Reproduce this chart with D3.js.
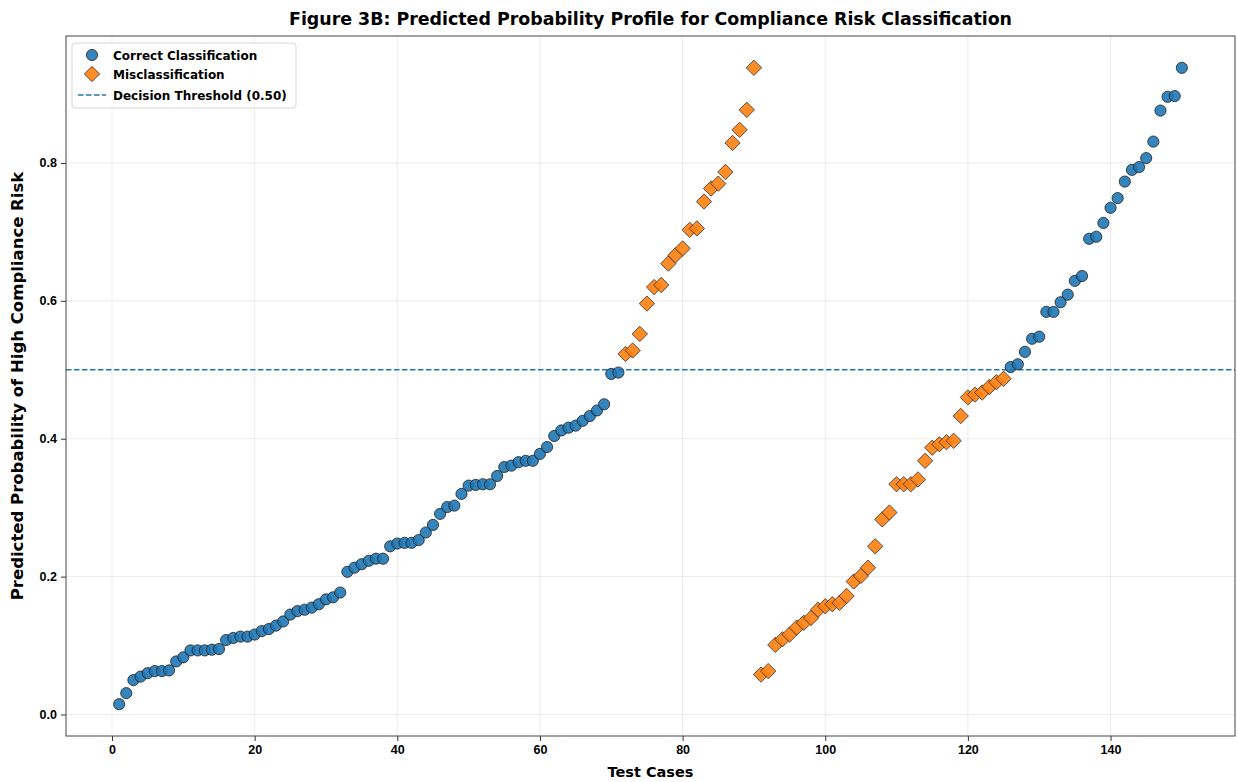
<!DOCTYPE html>
<html>
<head>
<meta charset="utf-8">
<script src="https://cdn.jsdelivr.net/npm/d3@7"></script>
<style>
  html, body { margin: 0; padding: 0; background: #fff; }
  svg { display: block; font-family: "DejaVu Sans", sans-serif; }
  .tick text { font-weight: bold; font-size: 12.5px; fill: #000; }
</style>
</head>
<body>
<svg id="chart" width="1238" height="782"></svg>
<script>
// Test cases split by outcome; probabilities of the high-risk class
const correctCasesA = d3.range(1, 72);
const correctProbA = [
  0.015, 0.031, 0.050, 0.055, 0.060, 0.063, 0.063, 0.064, 0.077, 0.083,
  0.093, 0.093, 0.093, 0.094, 0.095, 0.108, 0.111, 0.113, 0.113, 0.116,
  0.121, 0.124, 0.129, 0.135, 0.145, 0.150, 0.152, 0.155, 0.160, 0.167,
  0.170, 0.177, 0.207, 0.213, 0.218, 0.223, 0.226, 0.226, 0.244, 0.248,
  0.249, 0.249, 0.253, 0.264, 0.275, 0.291, 0.301, 0.303, 0.320, 0.332,
  0.333, 0.334, 0.334, 0.346, 0.359, 0.361, 0.366, 0.368, 0.368, 0.378,
  0.388, 0.404, 0.412, 0.416, 0.419, 0.426, 0.433, 0.441, 0.450, 0.494,
  0.496
];
const misCasesA = d3.range(72, 91);
const misProbA = [
  0.523, 0.528, 0.552, 0.596, 0.620, 0.623, 0.654, 0.666, 0.676, 0.703,
  0.705, 0.744, 0.763, 0.770, 0.787, 0.829, 0.848, 0.877, 0.938
];
const misCasesB = d3.range(91, 126);
const misProbB = [
  0.058, 0.063, 0.101, 0.109, 0.116, 0.126, 0.133, 0.140, 0.152, 0.157,
  0.160, 0.162, 0.172, 0.193, 0.201, 0.213, 0.244, 0.283, 0.293, 0.334,
  0.334, 0.334, 0.341, 0.368, 0.387, 0.392, 0.395, 0.397, 0.433, 0.460,
  0.464, 0.467, 0.475, 0.482, 0.487
];
const correctCasesB = d3.range(126, 151);
const correctProbB = [
  0.504, 0.508, 0.526, 0.545, 0.548, 0.584, 0.584, 0.598, 0.609, 0.629,
  0.636, 0.690, 0.693, 0.713, 0.735, 0.749, 0.773, 0.790, 0.794, 0.807,
  0.831, 0.876, 0.896, 0.897, 0.938
];
const threshold = 0.5;
const xTicks = [0, 20, 40, 60, 80, 100, 120, 140];
const yTicks = [0.0, 0.2, 0.4, 0.6, 0.8];
const legendLabels = ["Correct Classification", "Misclassification", "Decision Threshold (0.50)"];

const blue = "#1f77b4", orange = "#ff7f0e";

const zip = (xs, ys) => xs.map((x, i) => ({ x, y: ys[i] }));
const correct = zip(correctCasesA, correctProbA).concat(zip(correctCasesB, correctProbB));
const mis = zip(misCasesA, misProbA).concat(zip(misCasesB, misProbB));
const all = correct.concat(mis);

const svg = d3.select("#chart");
const m = { left: 66, right: 3, top: 36, bottom: 46 };
const W = 1238, H = 782;
const iw = W - m.left - m.right, ih = H - m.top - m.bottom;

// 5% padding around the data extent
const xe = d3.extent(all, d => d.x), ye = d3.extent(all, d => d.y);
const xp = (xe[1] - xe[0]) * 0.05, yp = (ye[1] - ye[0]) * 0.05;
const x = d3.scaleLinear().domain([xe[0] - xp, xe[1] + xp]).range([0, iw]);
const y = d3.scaleLinear().domain([ye[0] - yp, ye[1] + yp]).range([ih, 0]);

const g = svg.append("g").attr("transform", `translate(${m.left},${m.top})`);

// grid
g.append("g").selectAll("line").data(xTicks).join("line")
  .attr("x1", d => x(d)).attr("x2", d => x(d)).attr("y1", 0).attr("y2", ih)
  .attr("stroke", "#b0b0b0").attr("stroke-opacity", 0.3).attr("stroke-width", 0.8);
g.append("g").selectAll("line").data(yTicks).join("line")
  .attr("y1", d => y(d)).attr("y2", d => y(d)).attr("x1", 0).attr("x2", iw)
  .attr("stroke", "#b0b0b0").attr("stroke-opacity", 0.3).attr("stroke-width", 0.8);

// threshold
g.append("line")
  .attr("x1", 0).attr("x2", iw).attr("y1", y(threshold)).attr("y2", y(threshold))
  .attr("stroke", blue).attr("stroke-width", 1.4).attr("stroke-dasharray", "5.5,2.5");

// correct points
const circleStyle = sel => sel.attr("r", 5.6)
  .attr("fill", blue).attr("fill-opacity", 0.9)
  .attr("stroke", "#1a1a1a").attr("stroke-opacity", 0.85).attr("stroke-width", 0.9);
g.append("g").selectAll("circle").data(correct).join("circle")
  .attr("cx", d => x(d.x)).attr("cy", d => y(d.y)).call(circleStyle);

// misclassified points
const diamond = d3.symbol().type(d3.symbolDiamond2 || d3.symbolDiamond).size(150);
const diamondStyle = sel => sel.attr("d", diamond)
  .attr("fill", orange).attr("fill-opacity", 0.9)
  .attr("stroke", "#333").attr("stroke-opacity", 0.9).attr("stroke-width", 0.9);
g.append("g").selectAll("path").data(mis).join("path")
  .attr("transform", d => `translate(${x(d.x)},${y(d.y)})`)
  .call(diamondStyle);

// axes
const xAxis = g.append("g").attr("transform", `translate(0,${ih})`)
  .call(d3.axisBottom(x).tickValues(xTicks).tickFormat(d3.format("d")).tickSize(5).tickPadding(4));
const yAxis = g.append("g")
  .call(d3.axisLeft(y).tickValues(yTicks).tickFormat(d3.format(".1f")).tickSize(5).tickPadding(4));
[xAxis, yAxis].forEach(a => {
  a.select(".domain").remove();
  a.selectAll(".tick line").attr("stroke", "#333");
});

// frame
g.append("rect").attr("width", iw).attr("height", ih)
  .attr("fill", "none").attr("stroke", "#444").attr("stroke-width", 1);

// labels
svg.append("text").attr("x", m.left + iw / 2).attr("y", 25)
  .attr("text-anchor", "middle").attr("font-weight", "bold").attr("font-size", 17.4)
  .text("Figure 3B: Predicted Probability Profile for Compliance Risk Classification");
svg.append("text").attr("x", m.left + iw / 2).attr("y", 777)
  .attr("text-anchor", "middle").attr("font-weight", "bold").attr("font-size", 14.5)
  .text("Test Cases");
svg.append("text").attr("transform", `translate(23,${m.top + ih / 2}) rotate(-90)`)
  .attr("text-anchor", "middle").attr("font-weight", "bold").attr("font-size", 16.5)
  .text("Predicted Probability of High Compliance Risk");

// legend
const lg = svg.append("g").attr("transform", `translate(${m.left + 6},${m.top + 7})`);
lg.append("rect").attr("width", 224).attr("height", 65).attr("rx", 3)
  .attr("fill", "#fff").attr("fill-opacity", 0.8).attr("stroke", "#ccc").attr("stroke-width", 0.8);
const rowY = [12, 31, 52];
lg.append("circle").attr("cx", 20).attr("cy", rowY[0]).call(circleStyle);
lg.append("path").attr("transform", `translate(20,${rowY[1]})`).call(diamondStyle);
lg.append("line").attr("x1", 6).attr("x2", 34).attr("y1", rowY[2]).attr("y2", rowY[2])
  .attr("stroke", blue).attr("stroke-width", 1.4).attr("stroke-dasharray", "5.5,2.5");
lg.selectAll("text.lab").data(legendLabels).join("text").attr("class", "lab")
  .attr("x", 41).attr("y", (d, i) => rowY[i] + 4.5)
  .attr("font-weight", "bold").attr("font-size", 12).text(d => d);
</script>
</body>
</html>
